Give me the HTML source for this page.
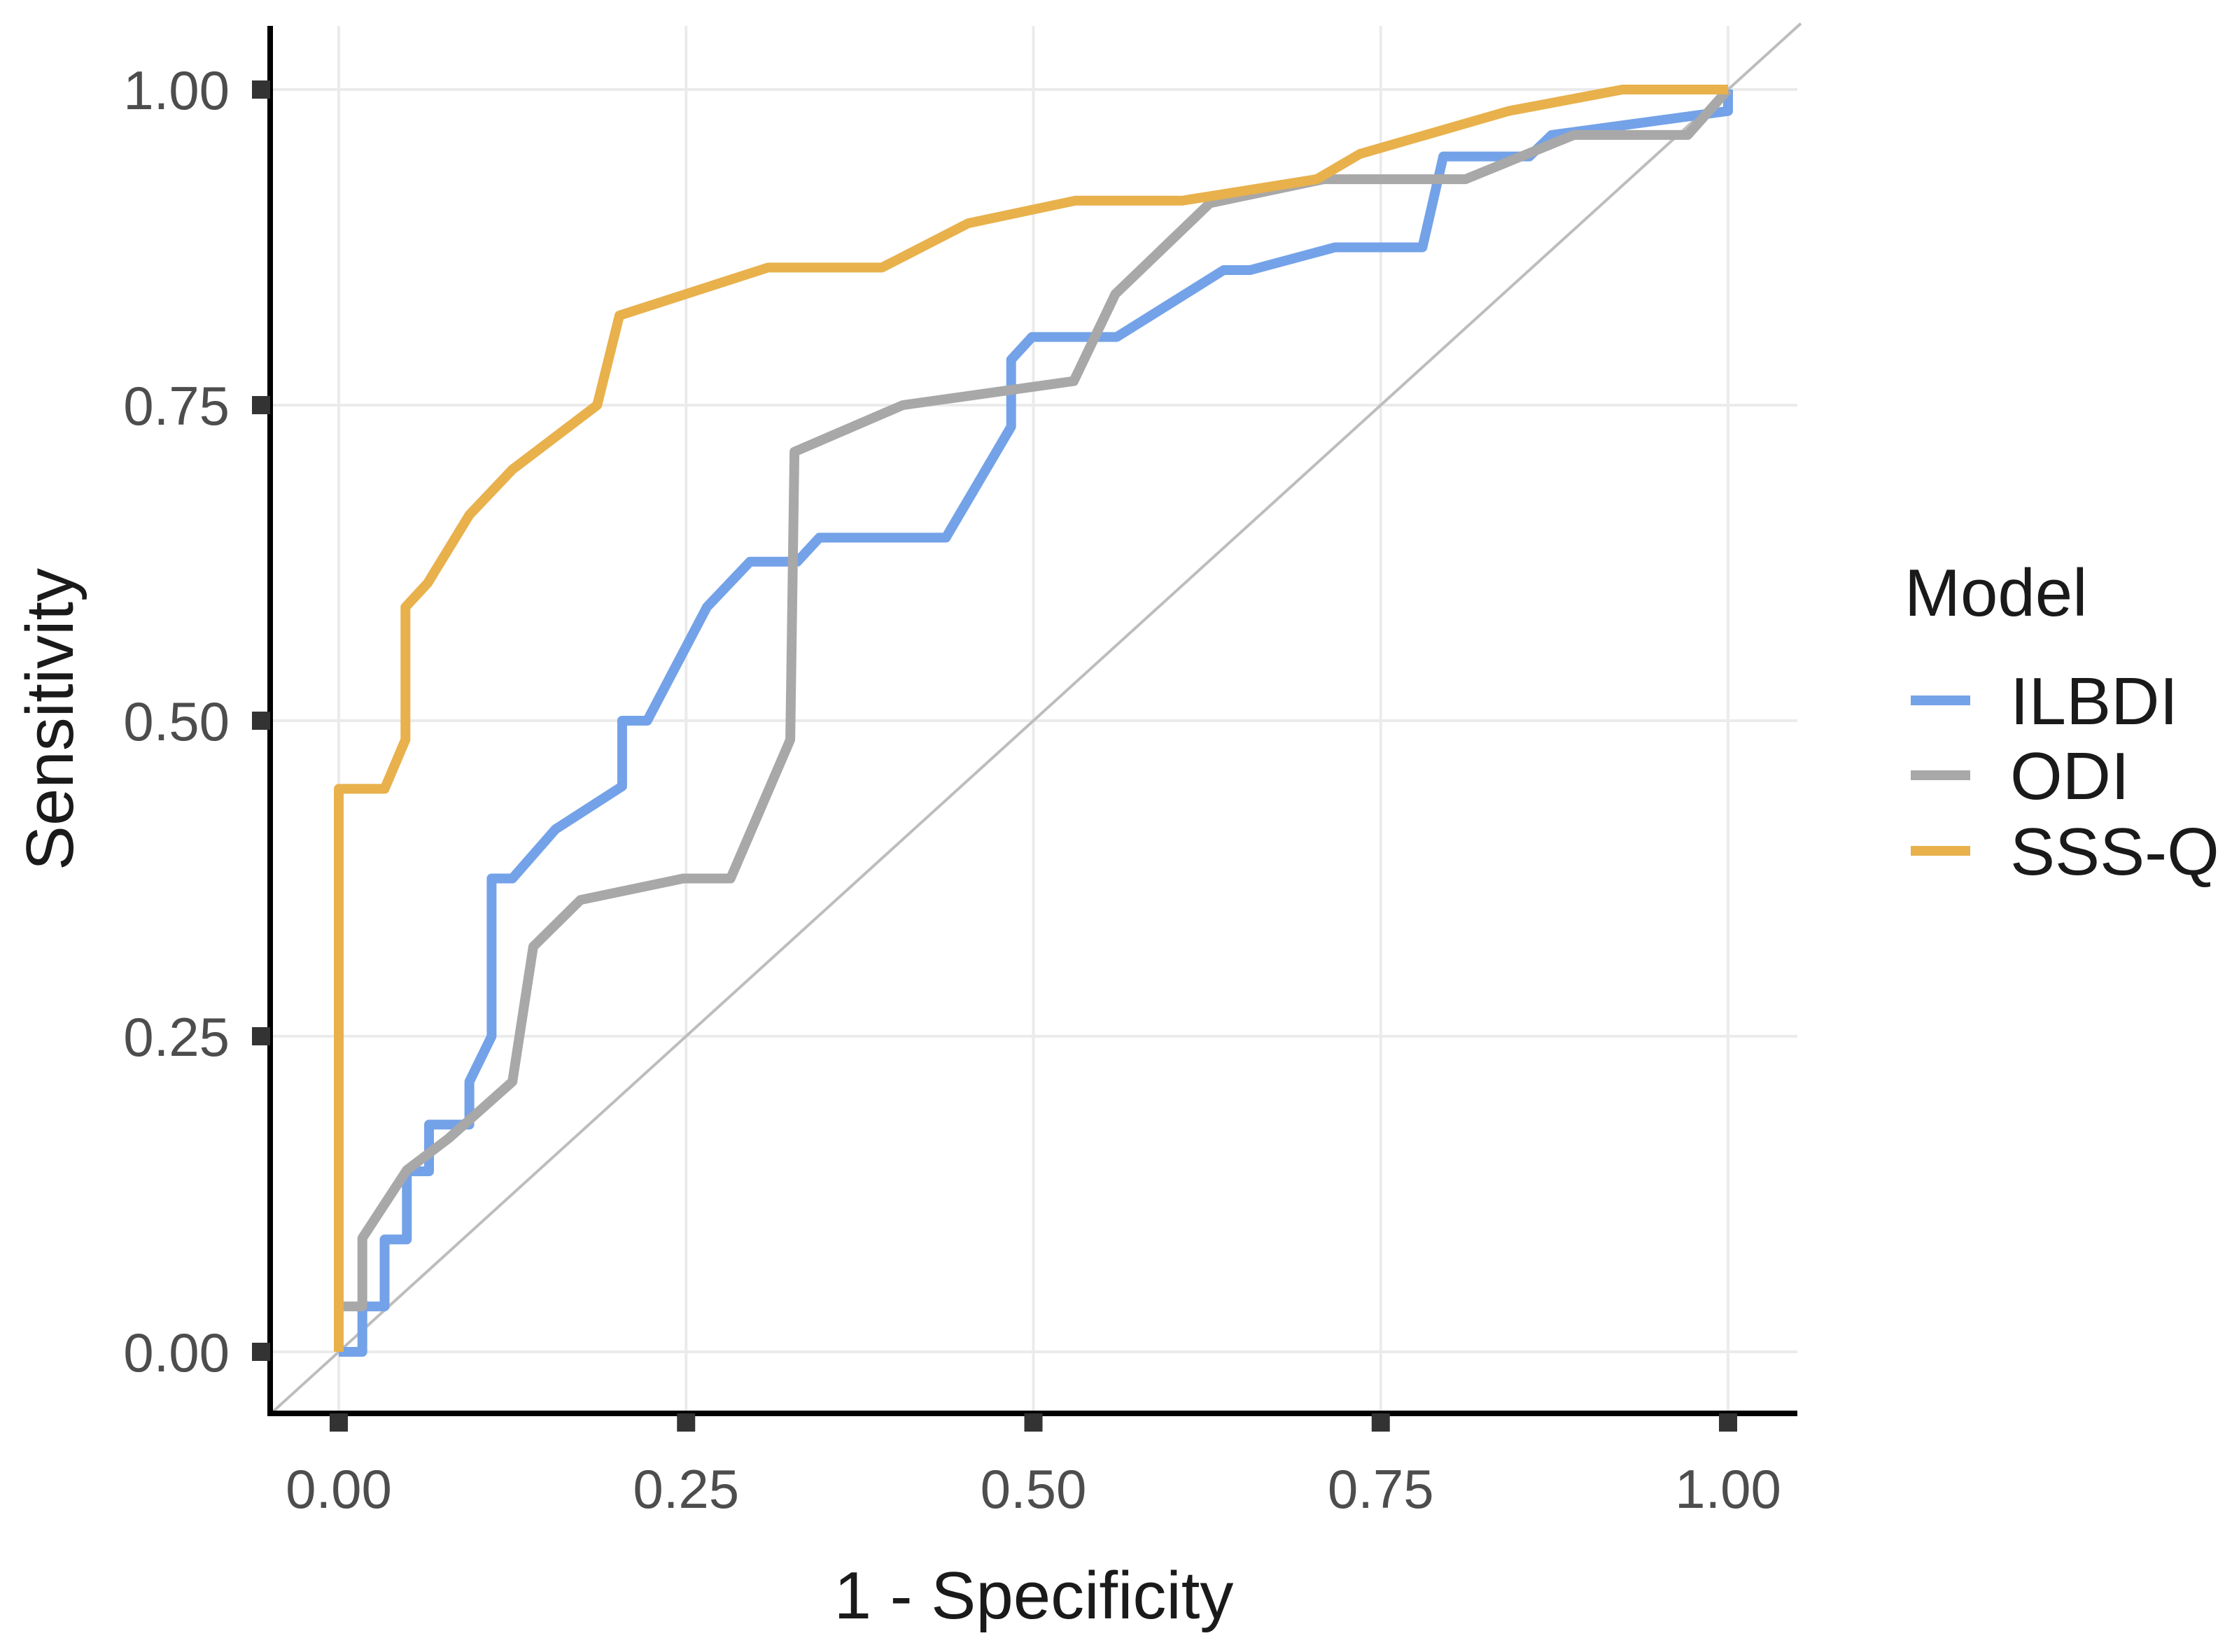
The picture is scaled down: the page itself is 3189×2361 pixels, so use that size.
<!DOCTYPE html>
<html><head><meta charset="utf-8"><style>
html,body{margin:0;padding:0;background:#fff;}
svg{display:block;font-family:"Liberation Sans",Arial,sans-serif;}
</style></head><body>
<svg id="chart" width="3189" height="2361" viewBox="0 0 3189 2361" xmlns="http://www.w3.org/2000/svg">
<g id="grid"></g>
<line id="diag" stroke="#bdbdbd" stroke-width="4"/>
<g id="series"></g>
<g id="axes"></g>
<text x="1477" y="2313" font-size="96" text-anchor="middle" fill="#1a1a1a">1 - Specificity</text>
<text transform="translate(104,1028) rotate(-90)" font-size="96" text-anchor="middle" fill="#1a1a1a">Sensitivity</text>
<g>
<text x="2721" y="880" font-size="96" fill="#1a1a1a">Model</text>
<g id="legend-entries"></g>
</g>
</svg>
<script>
const xTicks=[0,0.25,0.5,0.75,1];
const yTicks=[0,0.25,0.5,0.75,1];
const tickLabels=["0.00","0.25","0.50","0.75","1.00"];
const seriesNames=["ILBDI","ODI","SSS-Q"];
const seriesColors=["#74a2e8","#a8a8a8","#e8b14c"];
const ilbdiX=[0,0.017,0.017,0.033,0.033,0.049,0.049,0.065,0.065,0.094,0.094,0.11,0.11,0.125,0.156,0.204,0.204,0.222,0.265,0.296,0.33,0.346,0.437,0.484,0.484,0.499,0.56,0.637,0.656,0.717,0.78,0.795,0.857,0.873,1,1];
const ilbdiY=[0,0,0.036,0.036,0.089,0.089,0.143,0.143,0.18,0.18,0.214,0.25,0.375,0.375,0.414,0.448,0.5,0.5,0.59,0.626,0.626,0.645,0.645,0.733,0.786,0.804,0.804,0.857,0.857,0.875,0.875,0.947,0.947,0.964,0.983,1];
const odiX=[0,0,0.017,0.017,0.049,0.079,0.125,0.14,0.174,0.248,0.282,0.325,0.328,0.406,0.529,0.559,0.627,0.709,0.811,0.889,0.971,1];
const odiY=[0,0.036,0.036,0.09,0.144,0.169,0.214,0.321,0.358,0.375,0.375,0.485,0.713,0.75,0.769,0.838,0.91,0.929,0.929,0.964,0.964,1];
const sssqX=[0,0,0.033,0.048,0.048,0.064,0.094,0.125,0.186,0.202,0.309,0.391,0.453,0.53,0.607,0.704,0.735,0.842,0.924,1];
const sssqY=[0,0.446,0.446,0.485,0.59,0.609,0.663,0.699,0.75,0.821,0.859,0.859,0.894,0.912,0.912,0.929,0.949,0.983,1,1];

const NS="http://www.w3.org/2000/svg";
const PL=386,PR=2568,PT=37,PB=2020;
const X=v=>484+v*1985;
const Y=v=>1932-v*1804;
function mk(tag,attrs,parent){const e=document.createElementNS(NS,tag);for(const k in attrs)e.setAttribute(k,attrs[k]);parent.appendChild(e);return e;}
const grid=document.getElementById('grid');
xTicks.forEach(v=>{const l=mk('line',{x1:X(v),x2:X(v),y1:PT,y2:PB,stroke:'#ebebeb','stroke-width':4},grid);

});
yTicks.forEach(v=>{const l=mk('line',{x1:PL,x2:PR,y1:Y(v),y2:Y(v),stroke:'#ebebeb','stroke-width':4},grid);

});
const d=document.getElementById('diag');
d.setAttribute('x1',PL);d.setAttribute('y1',Y((X(0)-PL)/-1985));
d.setAttribute('x2',2573);d.setAttribute('y2',Y((2573-484)/1985));
const sg=document.getElementById('series');
[[ilbdiX,ilbdiY],[odiX,odiY],[sssqX,sssqY]].forEach((s,i)=>{
 const pts=s[0].map((x,j)=>X(x).toFixed(1)+','+Y(s[1][j]).toFixed(1)).join(' ');
 const p=mk('polyline',{points:pts,fill:'none',stroke:seriesColors[i],'stroke-width':14,'stroke-linejoin':'round'},sg);
 
 
});
const ax=document.getElementById('axes');
const ya=mk('line',{x1:PL,x2:PL,y1:PT,y2:PB+4,stroke:'#000','stroke-width':8},ax);


const xa=mk('line',{x1:PL-4,x2:PR,y1:PB,y2:PB,stroke:'#000','stroke-width':8},ax);


xTicks.forEach((v,i)=>{
 const t=mk('rect',{x:X(v)-13,y:PB,width:26,height:26,fill:'#333'},ax);
 
 
 const lb=mk('text',{x:X(v),y:2155,'font-size':78,'text-anchor':'middle',fill:'#4d4d4d'},ax);
 lb.textContent=tickLabels[i];
 
 
});
yTicks.forEach((v,i)=>{
 const t=mk('rect',{x:PL-26,y:Y(v)-13,width:26,height:26,fill:'#333'},ax);
 
 
 const lb=mk('text',{x:328,y:Y(v)+28,'font-size':78,'text-anchor':'end',fill:'#4d4d4d'},ax);
 lb.textContent=tickLabels[i];
 
 
});
const lg=document.getElementById('legend-entries');
const ly=[1001,1108,1216];
seriesNames.forEach((n,i)=>{
 const k=mk('line',{x1:2730,x2:2815,y1:ly[i],y2:ly[i],stroke:seriesColors[i],'stroke-width':14},lg);
 
 
 const t=mk('text',{x:2872,y:ly[i]+34,'font-size':96,fill:'#1a1a1a'},lg);
 t.textContent=n;
 
 
});
</script>
</body></html>
